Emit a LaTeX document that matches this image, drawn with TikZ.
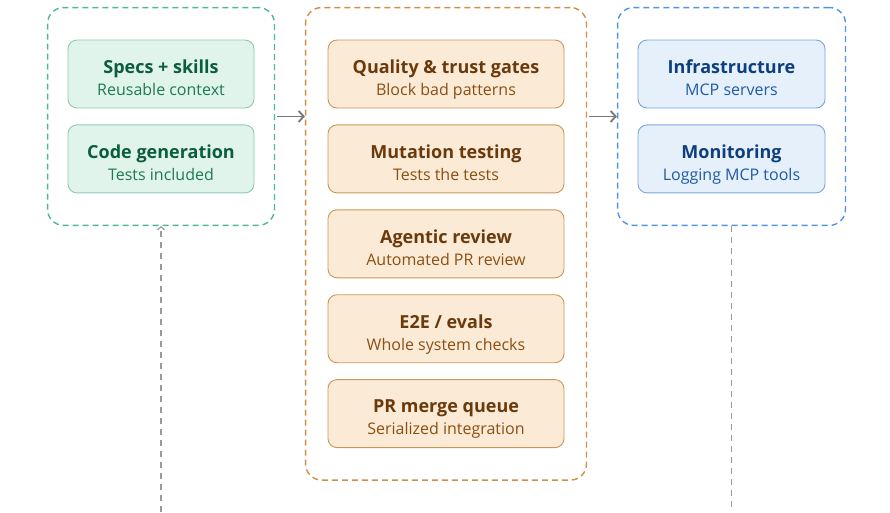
\documentclass[tikz,border=0pt]{standalone}
\usepackage{fontspec}
\setmainfont{Open Sans}
\usetikzlibrary{arrows.meta,fit,positioning}
\definecolor{plgreenedge}{HTML}{4DBB8F}
\definecolor{plgreenline}{HTML}{8CCBB0}
\definecolor{plgreenfill}{HTML}{E1F4EC}
\definecolor{plgreentitle}{HTML}{0B5D3E}
\definecolor{plgreensub}{HTML}{1E7A53}
\definecolor{plorangeedge}{HTML}{D08F45}
\definecolor{plorangeline}{HTML}{C8975A}
\definecolor{plorangefill}{HTML}{FBEBD6}
\definecolor{ploragetitle}{HTML}{6B3A0C}
\definecolor{plorangesub}{HTML}{8B4F12}
\definecolor{plblueedge}{HTML}{4F95E5}
\definecolor{plblueline}{HTML}{78A6DC}
\definecolor{plbluefill}{HTML}{E5F0FB}
\definecolor{plbluetitle}{HTML}{0D3F7E}
\definecolor{plbluesub}{HTML}{1E5AA8}
\definecolor{plgray}{HTML}{777777}
\definecolor{plgraylight}{HTML}{9A9A9A}
\newcommand{\plstage}[3]{\rule{0pt}{25.6pt}\textcolor{#1}{\fontsize{18}{22}\selectfont\bfseries #2}\\#3\rule[-5pt]{0pt}{5pt}}
\tikzset{
  pl text/.style={font=\fontsize{16}{22}\selectfont},
  pl node/.style={rounded corners=9pt, line width=0.9pt, minimum height=68pt,
    align=center, inner sep=0pt},
  pl green/.style={pl node, draw=plgreenline, fill=plgreenfill, text=plgreensub,
    minimum width=186pt},
  pl orange/.style={pl node, draw=plorangeline, fill=plorangefill, text=plorangesub,
    minimum width=236pt},
  pl blue/.style={pl node, draw=plblueline, fill=plbluefill, text=plbluesub,
    minimum width=187pt},
  pl panel/.style={line width=1.4pt, dash pattern=on 6pt off 4pt, rounded corners=16pt,
    inner xsep=20pt, inner ysep=32pt},
  pl arrow/.style={-{Straight Barb[length=5pt,width=11pt]}, line width=1.8pt,
    draw=plgray, shorten <=2pt},
  pl link/.style={draw=plgraylight, line width=1.2pt, dash pattern=on 6pt off 5pt}
}

\begin{document}
\begin{tikzpicture}[pl text, node distance=16pt]
  \useasboundingbox (0,0) rectangle (890pt,-512pt);
  % author side
  \node[pl green] (specs) at (161pt,-74pt) {\plstage{plgreentitle}{Specs + skills}{Reusable context}};
  \node[pl green, below=of specs] (codegen) {\plstage{plgreentitle}{Code generation}{Tests included}};
  % checks
  \node[pl orange] (gates) at (446pt,-74pt) {\plstage{ploragetitle}{Quality \& trust gates}{Block bad patterns}};
  \node[pl orange, below=of gates] (mutation) {\plstage{ploragetitle}{Mutation testing}{Tests the tests}};
  \node[pl orange, below=of mutation] (review) {\plstage{ploragetitle}{Agentic review}{Automated PR review}};
  \node[pl orange, below=of review] (evals) {\plstage{ploragetitle}{E2E / evals}{Whole system checks}};
  \node[pl orange, below=of evals] (queue) {\plstage{ploragetitle}{PR merge queue}{Serialized integration}};
  % platform
  \node[pl blue] (infra) at (731.5pt,-74pt) {\plstage{plbluetitle}{Infrastructure}{MCP servers}};
  \node[pl blue, below=of infra] (monitor) {\plstage{plbluetitle}{Monitoring}{Logging MCP tools}};

  \node[pl panel, draw=plgreenedge, fit=(specs)(codegen)] (author) {};
  \node[pl panel, draw=plorangeedge, inner xsep=22pt, fit=(gates)(queue)] (checks) {};
  \node[pl panel, draw=plblueedge, fit=(infra)(monitor)] (platform) {};

  \draw[pl arrow] (author.east) -- (author.east -| checks.west);
  \draw[pl arrow] (checks.east |- platform.west) -- (platform.west);

  \coordinate (leftfoot) at (author.south |- 0,-512pt);
  \coordinate (rightfoot) at (platform.south |- 0,-512pt);
  \draw[pl link, -{Straight Barb[length=3pt,width=7pt]}] (leftfoot) -- (author.south);
  \draw[pl link] (platform.south) -- (rightfoot);
\end{tikzpicture}
\end{document}
